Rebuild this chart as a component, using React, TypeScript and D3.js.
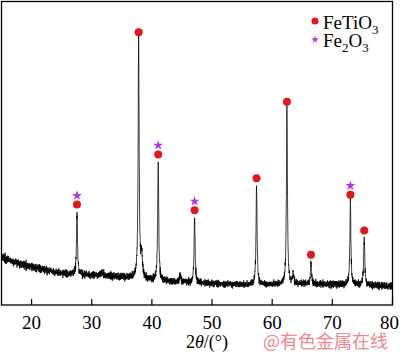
import React from "react";
import * as d3 from "d3";

// ---- data ----
const xTicks = [20, 30, 40, 50, 60, 70, 80];
const backgroundAngles = [15, 16, 18.2, 20, 22.3, 24.5, 26.5, 29, 31.5, 34, 36.4, 40, 43.9, 47.5, 51.4, 56.4, 60, 65, 70, 75, 80];
const backgroundCounts = [480, 455, 410, 385, 350, 325, 310, 300, 295, 285, 272, 250, 232, 222, 212, 204, 206, 212, 208, 200, 188];
const peakAngles = [27.55, 31.7, 37.8, 38.3, 41.05, 44.7, 47.1, 57.4, 62.45, 63.5, 66.45, 73.0, 75.3];
const peakHeights = [625, 30, 2375, 220, 1185, 75, 650, 990, 1750, 100, 215, 825, 470];
const peakWidths = [0.2, 0.6, 0.2, 0.3, 0.2, 0.25, 0.2, 0.2, 0.2, 0.25, 0.2, 0.2, 0.22];
const ilmenitePeaks = [27.55, 37.8, 41.05, 47.1, 57.4, 62.45, 66.45, 73.0, 75.3];
const hematitePeaks = [27.55, 41.05, 47.1, 73.0];
const noiseA = [2, -1, 3, -2, 0, -3, 1, 2, -2, 3, -1, -3, 2, 0, -2, 1, 3, -1, -2, 2, -3, 0, 1, -1, 3, -2, 2, -3, 1, 0, -1, 2, -2, 3, -3, 1, -1, 0, 2, -2, 1, 3, -3, -1, 2, 0, -2, 3, -1, 1, -3, 2, -2, 0, 1, -1, 3, -2, 2, -3, 0];
const noiseB = [1, -2, 0, 2, -1, 1, -3, 2, 0, -1, 2, -2, 1, 3, -1, 0, -2, 1, -1, 2, -3, 1, 0, 2, -2, 1, -1, 3, -2, 0, 1, -1, 2, -2, 0, 1, -3, 2, -1, 1, 0, -2, 2, -1, 1, 0, -1];
const legendItems = ["FeTiO", "Fe"];

const W = 400, H = 354;
const left = 1.5, right = 392.5, top = 1.5, bottom = 305;

const x = d3.scaleLinear().domain([15, 80]).range([left, right]);
const y = d3.scaleLinear().domain([0, 3040]).range([bottom, top]);
const bg = d3.scaleLinear().domain(backgroundAngles).range(backgroundCounts).clamp(true);

function signal(a: number) {
  let s = bg(a);
  for (let i = 0; i < peakAngles.length; i++) {
    const hw = peakWidths[i] / 2;
    const d = (a - peakAngles[i]) / hw;
    s += peakHeights[i] / (1 + d * d);
  }
  return s;
}

const step = 0.025;
const samples: [number, number][] = [];
{
  const n = Math.round((80 - 15) / step);
  for (let i = 0; i <= n; i++) {
    const a = 15 + i * step;
    const s = signal(a);
    const nz = (noiseA[i % noiseA.length] + noiseB[(i * 7) % noiseB.length]) * 7.5 * Math.sqrt(Math.max(1, s / 260));
    samples.push([a, s + nz]);
  }
}
const pts = samples.concat(peakAngles.map((a) => [a, signal(a)] as [number, number])).sort((p, q) => p[0] - q[0]);

const line = d3.line<[number, number]>().x((d) => x(d[0])).y((d) => y(d[1]));
const star = d3.symbol().type(d3.symbolStar);
const serif = "'Liberation Serif', 'Times New Roman', serif";

export default function App() {
  return (
    <svg width={W} height={H} style={{ position: "absolute", left: 0, top: 0, background: "#fff" }}>
      <rect x={0} y={0} width={W} height={H} fill="#fff" />
      <path d={line(pts) || ""} fill="none" stroke="#000" strokeWidth={0.75} />
      {ilmenitePeaks.map((a) => (
        <circle key={"c" + a} cx={x(a)} cy={y(signal(a)) - 7.5} r={4} fill="#e3161d" />
      ))}
      {hematitePeaks.map((a) => (
        <path key={"s" + a} d={star.size(30)() || ""} transform={`translate(${x(a)},${y(signal(a)) - 16.5})`} fill="#b535d6" />
      ))}
      <rect x={left} y={top} width={right - left} height={bottom - top} fill="none" stroke="#000" strokeWidth={1.3} />
      {xTicks.map((t) => (
        <g key={t}>
          <line x1={x(t)} x2={x(t)} y1={bottom} y2={bottom - 6} stroke="#000" strokeWidth={1.2} />
          <text x={t === 80 ? x(t) - 3 : x(t)} y={329} textAnchor="middle" fontFamily={serif} fontSize={19} fill="#000">
            {t}
          </text>
        </g>
      ))}
      <text x={207} y={348} textAnchor="middle" fontFamily={serif} fontSize={18} fill="#000">
        2<tspan fontStyle="italic">θ</tspan>/(°)
      </text>
      <text x={388} y={348} textAnchor="end" fontFamily="'Noto Sans CJK SC', sans-serif" fontSize={18} fill="#f3868f">
        @有色金属在线
      </text>
      <circle cx={315} cy={21} r={3.5} fill="#e3161d" />
      <text x={323} y={29} fontFamily={serif} fontSize={19} fill="#000">
        {legendItems[0]}
        <tspan fontSize={13} dy={5}>3</tspan>
      </text>
      <path d={star.size(18)() || ""} transform="translate(315,39.5)" fill="#b535d6" />
      <text x={323} y={47} fontFamily={serif} fontSize={19} fill="#000">
        {legendItems[1]}
        <tspan fontSize={13} dy={5}>2</tspan>
        <tspan fontSize={19} dy={-5}>O</tspan>
        <tspan fontSize={13} dy={5}>3</tspan>
      </text>
    </svg>
  );
}
